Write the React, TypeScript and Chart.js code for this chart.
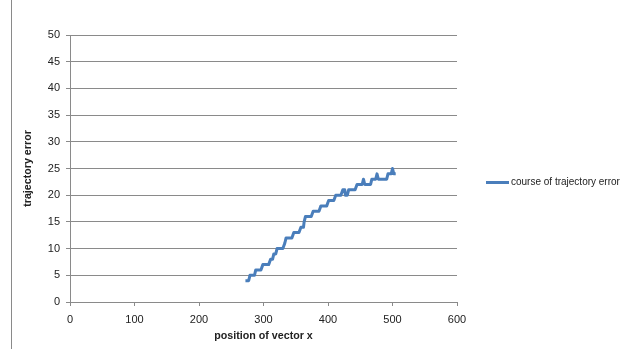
import React, { useEffect, useRef } from "react";
import { Chart, registerables } from "chart.js";

Chart.register(...registerables);

const seriesLabel = "course of trajectory error";
const xAxisTitle = "position of vector x";
const yAxisTitle = "trajectory error";

const xValues = [272, 277, 279, 286, 288, 296, 299, 308, 311, 314, 316, 319, 321, 330, 333, 335, 344, 347, 355, 358, 362, 363, 365, 374, 377, 386, 389, 398, 401, 409, 412, 420, 423, 426, 427, 430, 432, 442, 445, 453, 455, 457, 466, 468, 474, 476, 478, 491, 493, 498, 500, 502, 505];
const yValues = [4, 4, 5, 5, 6, 6, 7, 7, 8, 8, 9, 9, 10, 10, 11, 12, 12, 13, 13, 14, 14, 15, 16, 16, 17, 17, 18, 18, 19, 19, 20, 20, 21, 21, 20, 20, 21, 21, 22, 22, 23, 22, 22, 23, 23, 24, 23, 23, 24, 24, 25, 24, 24];

const xMin = 0, xMax = 600, xStep = 100;
const yMin = 0, yMax = 50, yStep = 5;

const FONT = "'Liberation Sans', Arial, sans-serif";
const GRID = "#8a8a8a";
const LINE = "#4A7EBB";

export default function App() {
  const ref = useRef<HTMLCanvasElement>(null);

  useEffect(() => {
    if (!ref.current) return;

    const decorPlugin = {
      id: "decor",
      beforeDraw(chart: any) {
        const ctx = chart.ctx;
        ctx.save();
        ctx.strokeStyle = GRID;
        ctx.lineWidth = 1;
        ctx.beginPath();
        ctx.moveTo(11.5, 0);
        ctx.lineTo(11.5, chart.height);
        ctx.stroke();
        ctx.restore();
      },
      afterDraw(chart: any) {
        const ctx = chart.ctx;
        const ds = chart.data.datasets[0];
        const area = chart.chartArea;
        const y = Math.round((area.top + area.bottom) / 2) + 13.5;
        const x0 = area.right + 29;
        ctx.save();
        ctx.strokeStyle = ds.borderColor;
        ctx.lineWidth = 3;
        ctx.beginPath();
        ctx.moveTo(x0, y);
        ctx.lineTo(x0 + 23, y);
        ctx.stroke();
        ctx.fillStyle = "#222";
        ctx.font = `10px ${FONT}`;
        ctx.textBaseline = "middle";
        ctx.textAlign = "left";
        ctx.fillText(ds.label, x0 + 25, y);
        ctx.restore();
      },
    };

    const chart = new Chart(ref.current, {
      type: "line",
      data: {
        datasets: [
          {
            label: seriesLabel,
            data: xValues.map((x, i) => ({ x, y: yValues[i] })),
            borderColor: LINE,
            backgroundColor: LINE,
            borderWidth: 3,
            borderJoinStyle: "round",
            borderCapStyle: "butt",
            pointRadius: 0,
            tension: 0,
            fill: false,
          },
        ],
      },
      options: {
        responsive: false,
        animation: false,
        devicePixelRatio: 1,
        layout: { padding: { top: 35, right: 183, left: 0, bottom: 0 } },
        plugins: {
          legend: { display: false },
          tooltip: { enabled: false },
        },
        scales: {
          x: {
            type: "linear",
            min: xMin,
            max: xMax,
            ticks: {
              stepSize: xStep,
              color: "#222",
              font: { family: FONT, size: 11 },
              padding: 7,
              maxRotation: 0,
            },
            grid: {
              display: true,
              drawOnChartArea: false,
              drawTicks: true,
              tickLength: 4,
              color: GRID,
            },
            border: { color: GRID },
            title: {
              display: true,
              text: xAxisTitle,
              color: "#222",
              font: { family: FONT, size: 10.7, weight: "bold" },
              padding: { top: 0, bottom: 7 },
            },
            afterFit: (s: any) => {
              s.height = 47;
            },
          },
          y: {
            type: "linear",
            min: yMin,
            max: yMax,
            ticks: {
              stepSize: yStep,
              color: "#222",
              font: { family: FONT, size: 11 },
              padding: 6,
            },
            grid: {
              color: GRID,
              tickLength: 4,
            },
            border: { color: GRID },
            title: {
              display: true,
              text: yAxisTitle,
              color: "#222",
              font: { family: FONT, size: 10.7, weight: "bold" },
              padding: { top: 22, bottom: 0 },
            },
            afterFit: (s: any) => {
              s.width = 70;
            },
          },
        },
      },
      plugins: [decorPlugin],
    });

    return () => chart.destroy();
  }, []);

  return (
    <div style={{ position: "absolute", left: 0, top: 0, width: 640, height: 349, background: "#fff" }}>
      <canvas ref={ref} width={640} height={349} style={{ display: "block" }} />
    </div>
  );
}
